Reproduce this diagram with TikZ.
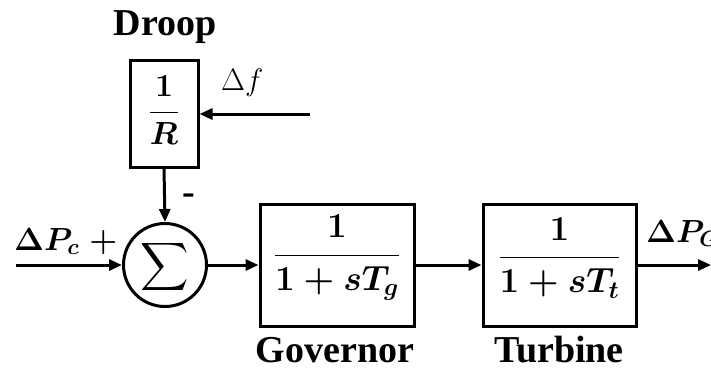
\RequirePackage{fix-cm}
\documentclass[tikz,border=0pt]{standalone}
\usepackage{amsmath}
\usepackage{graphicx}
\usepackage{fontspec}
\setmainfont{Liberation Serif}
\usetikzlibrary{arrows.meta}
\begin{document}
\begin{tikzpicture}[x=1pt,y=-1pt,
  blk/.style={draw,line width=3pt,inner sep=0pt},
  conn/.style={line width=3pt,-{Triangle[length=13pt,width=11pt]}},
  lbl/.style={font=\fontsize{38}{38}\selectfont\bfseries,inner sep=0pt},
  mth/.style={font=\fontsize{32}{32}\selectfont\boldmath,inner sep=0pt},
  frc/.style={font=\fontsize{35}{35}\selectfont\boldmath,inner sep=0pt}]
\useasboundingbox (0,0) rectangle (711,372);
% blocks
\node[blk,minimum width=68pt,minimum height=107pt] (droop) at (164,113.5) {};
\node[mth] (droopf) at ([yshift=3pt]droop.center) {$\dfrac{1}{R}$};
\node[blk,circle,minimum size=83pt] (sum) at (165,265) {};
\node[inner sep=0pt] (sigma) at ([yshift=-2pt]sum.center) {\scalebox{1.35}{\fontsize{29}{29}\selectfont$\displaystyle\sum$}};
\node[blk,minimum width=154pt,minimum height=122pt] (gov) at (337,265) {};
\node[frc] (govf) at ([yshift=7pt]gov.center) {$\dfrac{\;1\;}{1+sT_g}$};
\node[blk,minimum width=153pt,minimum height=122pt] (tur) at (559.5,265) {};
\node[frc] (turf) at ([yshift=7pt]tur.center) {$\dfrac{\;1\;}{1+sT_t}$};
% free ends
\coordinate (fin) at (310,114);
\coordinate (pcin) at (16,265);
\coordinate (pgout) at (711,265);
% connectors
\draw[conn] (fin) -- (droop.east |- fin);
\draw[conn] (droop.south) -- (sum.north);
\draw[conn] (pcin) -- (sum.west);
\draw[conn] (sum.east) -- (gov.west);
\draw[conn] (gov.east) -- (tur.west);
\draw[conn] (tur.east) -- (pgout);
% labels
\node[lbl,anchor=base] (droopl) at (165,35) {Droop};
\node[lbl,anchor=base] (govl) at (335,362) {Governor};
\node[lbl,anchor=base] (turl) at (559,362) {Turbine};
\node[inner sep=0pt,anchor=base west,font=\fontsize{31}{31}\selectfont] (dfl) at (221,90) {$\Delta f$};
\node[mth,anchor=base west] (pcl) at (14,250) {$\Delta P_c$\hspace{10pt}$+$};
\node[lbl,anchor=center] (minus) at (189,199) {-};
\node[mth,anchor=base west] (pgl) at (646,242) {$\Delta P_G$};
\end{tikzpicture}
\end{document}
